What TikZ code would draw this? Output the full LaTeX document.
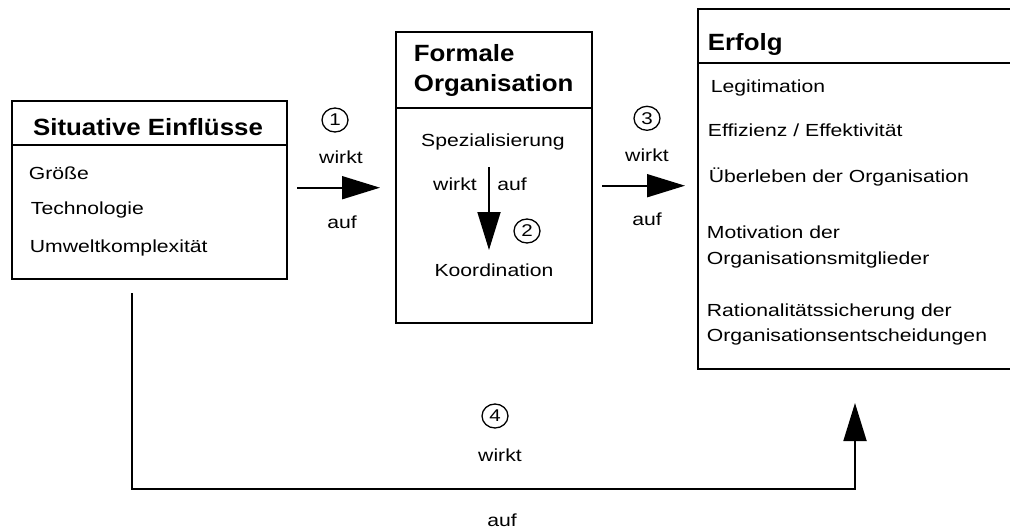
\documentclass[tikz,border=0pt]{standalone}
\usepackage{fontspec}
\setmainfont{Liberation Sans}[FakeStretch=1.21]
\newfontfamily\kopfschrift{Liberation Sans}[FakeStretch=1.1]
\usepackage{tikz}
\usetikzlibrary{arrows.meta,positioning,shapes.geometric}
\tikzset{
	kasten/.style = {draw, rectangle, line width=2pt, inner sep=0pt, outer sep=0pt},
	kopf/.style = {inner sep=0pt, font=\kopfschrift\bfseries\fontsize{23.5}{28}\selectfont},
	eintrag/.style = {inner sep=0pt, anchor=base west, font=\fontsize{17.5}{21}\selectfont},
	wort/.style = {inner sep=0pt, anchor=base, font=\fontsize{17.5}{21}\selectfont},
	nummer/.style = {draw, ellipse, line width=1.3pt, inner sep=0pt,
		minimum width=26pt, minimum height=24pt, font=\fontsize{17}{21}\selectfont}
}

\begin{document}
\begin{tikzpicture}[x=1pt, y=-1pt, ->, >={Triangle[length=38pt, width=23pt]},
	line width=1.8pt]
\useasboundingbox (0,0) rectangle (1010,530);
\clip (0,0) rectangle (1010,530);
% Situative Einfluesse
\node [kasten, anchor=north west, minimum width=275pt, minimum height=44pt] (sitkopf) at (12,101) {};
\node [kasten, below=0pt of sitkopf, minimum width=275pt, minimum height=134pt] (sit) {};
\node [kopf, anchor=base] (sittitel) at (148,135.5) {Situative Einflüsse};
\node [eintrag] (groesse) at (28,179) {Größe};
\node [eintrag] (technik) at (30,214.5) {Technologie};
\node [eintrag] (umwelt) at (29,252.5) {Umweltkomplexität};
% Formale Organisation
\node [kasten, anchor=north west, minimum width=196pt, minimum height=76pt] (orgkopf) at (396,32) {};
\node [kasten, below=0pt of orgkopf, minimum width=196pt, minimum height=215pt] (org) {};
\node [kopf, anchor=base west] (orgtitel) at (413,61.5) {Formale};
\node [kopf, anchor=base west] (orgtitelb) at (413,91.5) {Organisation};
\node [wort] (spez) at (493,146.5) {Spezialisierung};
\node [wort] (koord) at (494,276.5) {Koordination};
\coordinate (spezaus) at (489,167);
\coordinate (koordein) at (489,250);
\draw (spezaus) -- (koordein);
\node [wort] (wirkt2) at (455,190) {wirkt};
\node [wort] (auf2) at (512,190) {auf};
\node [nummer] (n2) at (527,231) {2};
% Erfolg
\node [kasten, anchor=north west, minimum width=320pt, minimum height=54pt] (erfkopf) at (698,9) {};
\node [kasten, below=0pt of erfkopf, minimum width=320pt, minimum height=306pt] (erf) {};
\node [kopf, anchor=base west] (erftitel) at (707,50) {Erfolg};
\node [eintrag] (legi) at (710,92.7) {Legitimation};
\node [eintrag] (effi) at (707,136.7) {Effizienz / Effektivität};
\node [eintrag] (ueber) at (708,182.5) {Überleben der Organisation};
\node [eintrag] (moti) at (706,238.3) {Motivation der};
\node [eintrag] (motib) at (706,264) {Organisationsmitglieder};
\node [eintrag] (rati) at (706,316) {Rationalitätssicherung der};
\node [eintrag] (ratib) at (706,341.7) {Organisationsentscheidungen};
% Wirkung 1
\coordinate (sitaus) at (297,187.7);
\coordinate (orgein) at (380,187.7);
\draw (sitaus) -- (orgein);
\node [nummer] (n1) at (335,120) {1};
\node [wort] (wirkt1) at (341,163.5) {wirkt};
\node [wort] (auf1) at (342,228) {auf};
% Wirkung 3
\coordinate (orgaus) at (602,185.7);
\coordinate (erfein) at (685,185.7);
\draw (orgaus) -- (erfein);
\node [nummer] (n3) at (647,118.3) {3};
\node [wort] (wirkt3) at (647,161.7) {wirkt};
\node [wort] (auf3) at (647,225) {auf};
% Wirkung 4
\coordinate (situnten) at (132,293);
\coordinate (ecke) at (855,489);
\coordinate (erfunten) at (855,403);
\draw (situnten) |- (ecke) -- (erfunten);
\node [nummer] (n4) at (495,416) {4};
\node [wort] (wirkt4) at (500,461.5) {wirkt};
\node [wort] (auf4) at (502,526) {auf};
\end{tikzpicture}
\end{document}
